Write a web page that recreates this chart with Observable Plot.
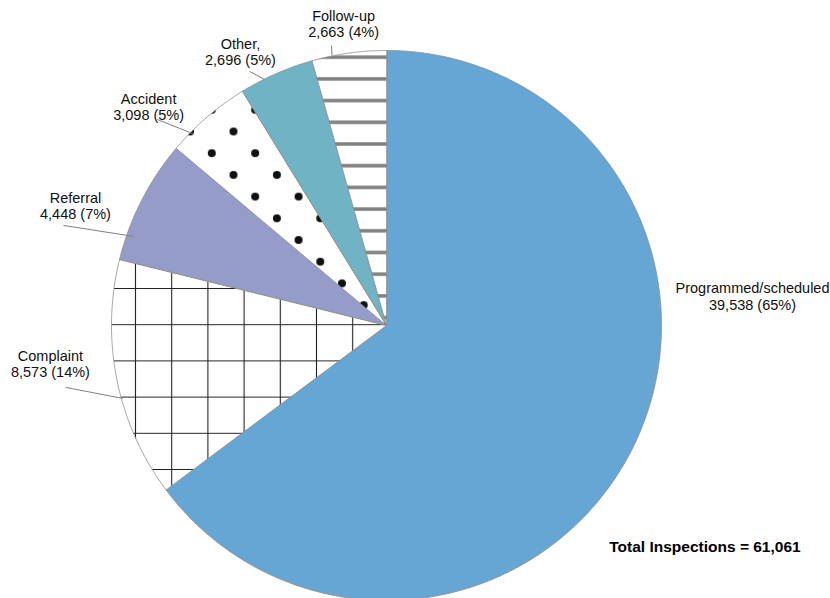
<!DOCTYPE html>
<html><head><meta charset="utf-8">
<script src="https://cdn.jsdelivr.net/npm/d3@7"></script>
<script src="https://cdn.jsdelivr.net/npm/@observablehq/plot@0.6"></script>
<style>html,body{margin:0;padding:0;background:#fff;overflow:hidden;}</style>
</head><body><div id="chart"></div>
<script>
// ---- data ----
const categories = ["Programmed/scheduled", "Complaint", "Referral", "Accident", "Other,", "Follow-up"];
const counts = [39538, 8573, 4448, 3098, 2696, 2663];
const countLabels = ["39,538", "8,573", "4,448", "3,098", "2,696", "2,663"];
const percentLabels = ["65%", "14%", "7%", "5%", "5%", "4%"];
const totalLabel = "Total Inspections = 61,061";

// ---- styles / layout (in pie-radius units) ----
const sliceFills = ["#66a6d4", "url(#gridPat)", "#959cc9", "url(#dotPat)", "#6fb3c4", "url(#stripePat)"];
const labelPos = [[1.331, 0.106], [-1.222, -0.140], [-1.131, 0.436], [-0.865, 0.796], [-0.531, 0.996], [-0.156, 1.098]];
const leaderPos = [null, [-1.167, -0.225, -0.96, -0.265], [-1.175, 0.364, -0.92, 0.324], [-0.833, 0.749, -0.705, 0.698], [-0.498, 0.924, -0.444, 0.895], [-0.2, 1.018, -0.198, 0.982]];
const totalPos = [1.158, -0.804];

// ---- build slice polygons ----
const total = d3.sum(counts);
let acc = 0;
const slicePts = [];
counts.forEach((v, i) => {
  const a0 = acc / total * 2 * Math.PI, a1 = (acc + v) / total * 2 * Math.PI;
  acc += v;
  slicePts.push({name: categories[i], x: 0, y: 0, fill: sliceFills[i]});
  const n = Math.max(2, Math.ceil((a1 - a0) / 0.005));
  for (let k = 0; k <= n; k++) {
    const a = a0 + (a1 - a0) * k / n;
    slicePts.push({name: categories[i], x: Math.sin(a), y: Math.cos(a), fill: sliceFills[i]});
  }
});

const labels = categories.map((c, i) => ({
  text: c + "\n" + countLabels[i] + " (" + percentLabels[i] + ")",
  x: labelPos[i][0], y: labelPos[i][1]
}));
const leaders = leaderPos.filter(d => d).map(d => ({x1: d[0], y1: d[1], x2: d[2], y2: d[3]}));

const plot = Plot.plot({
  width: 830, height: 598,
  x: {domain: [-1, 1], range: [111, 661], axis: null},
  y: {domain: [-1, 1], range: [600, 50], axis: null},
  color: {type: "identity"},
  style: {fontFamily: "'Liberation Sans', Arial, sans-serif", background: "#fff", overflow: "hidden"},
  marks: [
    Plot.line(slicePts, {x: "x", y: "y", z: "name", fill: "fill", stroke: "#8c8c8c", strokeWidth: 0.8, curve: "linear-closed"}),
    Plot.link(leaders, {x1: "x1", y1: "y1", x2: "x2", y2: "y2", stroke: "#808080", strokeWidth: 1}),
    Plot.text(labels, {x: "x", y: "y", text: "text", fontSize: 14.5, fill: "#111", lineHeight: 1.12}),
    Plot.text([totalLabel], {x: () => totalPos[0], y: () => totalPos[1], text: d => d, fontSize: 15.5, fontWeight: "bold", fill: "#000"})
  ]
});

// patterns
const svg = d3.select(plot);
const defs = svg.insert("defs", ":first-child");
const g = defs.append("pattern").attr("id", "gridPat").attr("patternUnits", "userSpaceOnUse")
  .attr("width", 36.2).attr("height", 36.2).attr("patternTransform", "translate(116.9,269.9)");
g.append("rect").attr("width", 36.2).attr("height", 36.2).attr("fill", "#fff");
g.append("path").attr("d", "M18.1,0V36.2M0,18.1H36.2").attr("stroke", "#222").attr("stroke-width", 1.1);
const dp = defs.append("pattern").attr("id", "dotPat").attr("patternUnits", "userSpaceOnUse")
  .attr("width", 43.4).attr("height", 43.4).attr("patternTransform", "translate(233,131)");
dp.append("rect").attr("width", 43.4).attr("height", 43.4).attr("fill", "#fff");
[[0,0],[43.4,0],[0,43.4],[43.4,43.4],[21.7,21.7]].forEach(([cx, cy]) =>
  dp.append("circle").attr("cx", cx).attr("cy", cy).attr("r", 4).attr("fill", "#111"));
const sp = defs.append("pattern").attr("id", "stripePat").attr("patternUnits", "userSpaceOnUse")
  .attr("width", 20).attr("height", 21.7).attr("patternTransform", "translate(0,45.85)");
sp.append("rect").attr("width", 20).attr("height", 21.7).attr("fill", "#fff");
sp.append("rect").attr("y", 9.1).attr("width", 20).attr("height", 3.5).attr("fill", "#808080");

document.getElementById("chart").appendChild(plot);
</script>
</body></html>
